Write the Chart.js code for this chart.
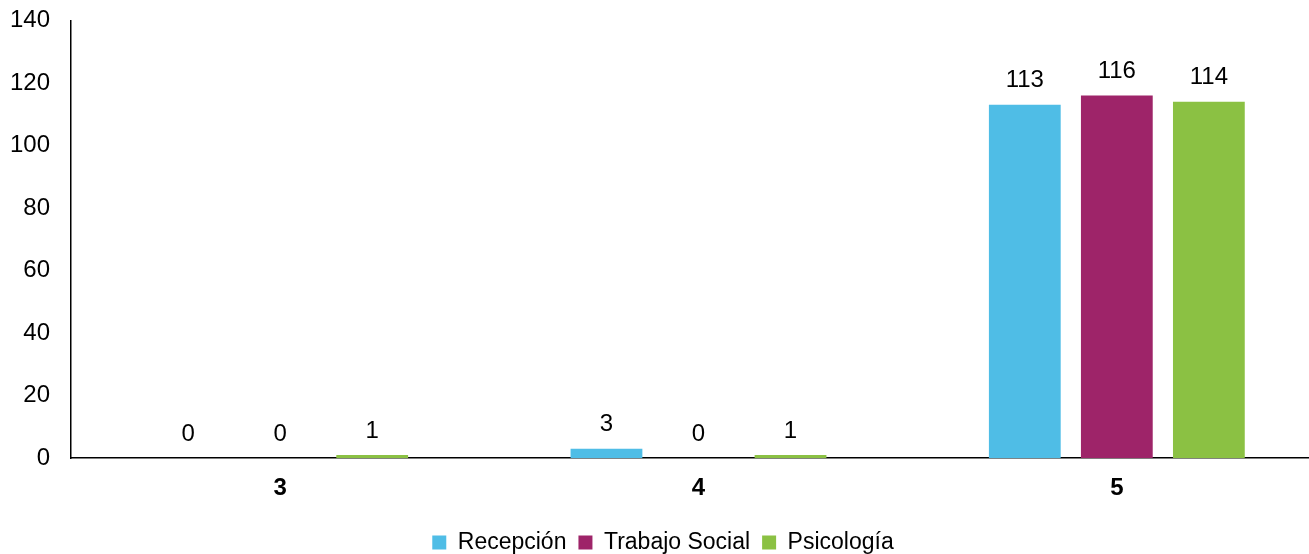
<!DOCTYPE html>
<html>
<head>
<meta charset="utf-8">
<script src="https://cdn.jsdelivr.net/npm/chart.js@4"></script>
<style>
  html, body { margin: 0; padding: 0; background: #fff; overflow: hidden; }
  #wrap { width: 1326px; height: 579px; margin-top: -15px; }
</style>
</head>
<body>
<div id="wrap"><canvas id="chart"></canvas></div>
<script>
'use strict';

const categories = ['3', '4', '5'];
const recepcion = [0, 3, 113];
const trabajoSocial = [0, 0, 116];
const psicologia = [1, 1, 114];
const yTicks = [0, 20, 40, 60, 80, 100, 120, 140];

const fontFamily = '"Liberation Sans", Arial, sans-serif';

// draws the value above each bar
const valueLabels = {
    id: 'valueLabels',
    afterDatasetsDraw(chart) {
        const ctx = chart.ctx;
        ctx.save();
        ctx.font = '24px ' + fontFamily;
        ctx.fillStyle = '#000';
        ctx.textAlign = 'center';
        ctx.textBaseline = 'middle';
        chart.data.datasets.forEach((ds, i) => {
            chart.getDatasetMeta(i).data.forEach((bar, j) => {
                ctx.fillText(String(ds.data[j]), bar.x, bar.y - 24);
            });
        });
        ctx.restore();
    }
};

new Chart(document.querySelector('#chart'), {
    type: 'bar',
    data: {
        labels: categories,
        datasets: [
            { label: 'Recepción', data: recepcion, backgroundColor: '#4FBDE6' },
            { label: 'Trabajo Social', data: trabajoSocial, backgroundColor: '#9E2469' },
            { label: 'Psicología', data: psicologia, backgroundColor: '#8BC143' }
        ]
    },
    options: {
        responsive: true,
        maintainAspectRatio: false,
        animation: false,
        categoryPercentage: 0.66,
        barPercentage: 0.78,
        layout: { padding: { top: 0, left: 0, right: 0, bottom: 0 } },
        plugins: {
            legend: {
                position: 'bottom',
                labels: {
                    boxWidth: 14,
                    boxHeight: 14,
                    padding: 12,
                    color: '#000',
                    font: { family: fontFamily, size: 23 }
                }
            },
            tooltip: { enabled: false }
        },
        scales: {
            x: {
                grid: { display: false, drawTicks: false },
                border: { display: true, color: '#000', width: 1.5 },
                ticks: {
                    color: '#000',
                    padding: 16,
                    font: { family: fontFamily, size: 24, weight: 'bold' }
                }
            },
            y: {
                min: 0,
                max: 140,
                afterFit(scale) { scale.width = 71; },
                afterBuildTicks(scale) { scale.ticks = yTicks.map(v => ({ value: v })); },
                grid: { display: false, drawTicks: false },
                border: { display: true, color: '#000', width: 1.5 },
                ticks: {
                    color: '#000',
                    padding: 21,
                    font: { family: fontFamily, size: 24 }
                }
            }
        }
    },
    plugins: [valueLabels]
});
</script>
</body>
</html>
